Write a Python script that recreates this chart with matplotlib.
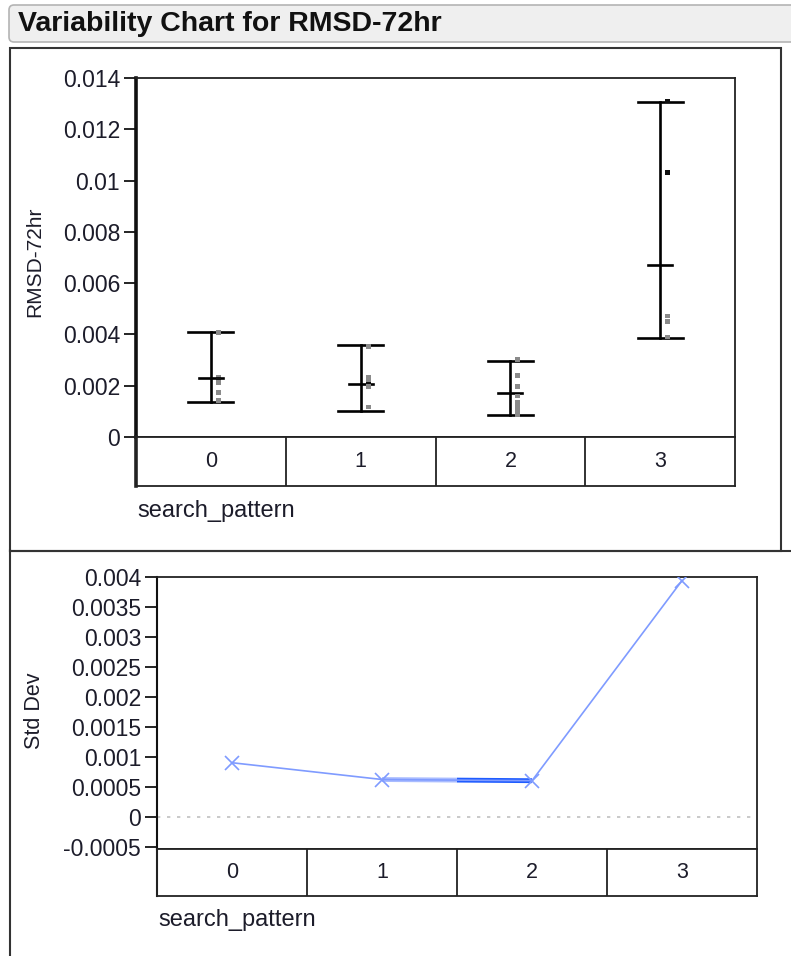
import numpy as np
import matplotlib
matplotlib.use("Agg")
import matplotlib.pyplot as plt
from matplotlib.patches import FancyBboxPatch, Rectangle

plt.rcParams['font.family'] = ['Liberation Sans', 'DejaVu Sans']

# Data
categories = ["0", "1", "2", "3"]
points_0 = [0.00406, 0.00234, 0.00226, 0.00212, 0.00173, 0.00142]
points_1 = [0.00352, 0.00234, 0.00221, 0.00206, 0.00198, 0.00117]
points_2 = [0.00303, 0.00241, 0.00196, 0.00160, 0.00134, 0.00121, 0.00112, 0.00101, 0.00088]
points_3 = [0.01310, 0.01030, 0.00472, 0.00450, 0.00390]
group_mean = [0.00229, 0.00207, 0.00170, 0.00670]
group_min = [0.00138, 0.00101, 0.00086, 0.00385]
group_max = [0.00408, 0.00357, 0.00296, 0.01308]
dark_points = {0: [2], 1: [3], 3: [0, 1]}
std_dev = [0.00090, 0.00062, 0.00060, 0.00394]

W, H = 791, 956
TXT = "#1c1c2a"


def box(x0, y0, x1, y1):
    return [x0 / W, 1 - y1 / H, (x1 - x0) / W, (y1 - y0) / H]


fig = plt.figure(figsize=(W / 100, H / 100), dpi=100)

# background "frame" axes in pixel coords
bg = fig.add_axes([0, 0, 1, 1], zorder=-1)
bg.set_xlim(0, W)
bg.set_ylim(H, 0)
bg.axis("off")
bg.add_patch(FancyBboxPatch((9, 5), 800, 37, boxstyle="round,pad=0,rounding_size=5",
                            facecolor="#efefef", edgecolor="#b4b4b4", lw=1.2))
bg.text(18, 24, "Variability Chart for RMSD-72hr", fontsize=20.5, fontweight="bold",
        color="#111111", va="center", ha="left")
bg.add_patch(Rectangle((10, 48), 770.5, 502.5, fill=False, edgecolor="#333333", lw=1.5))
bg.plot([10, W], [550.5, 550.5], color="#333333", lw=1.5)
bg.plot([10, 10], [550, H], color="#333333", lw=1.5)
bg.text(35, 262, "RMSD-72hr", rotation=90, fontsize=15, color=TXT, ha="center", va="center")
bg.text(35, 711, "Std Dev", rotation=90, fontsize=15.5, color=TXT, ha="center", va="center")
bg.text(137, 511, "search_pattern", fontsize=17, color=TXT, ha="left", va="center")
bg.text(158, 920, "search_pattern", fontsize=17, color=TXT, ha="left", va="center")


def style_axes(ax, left_lw):
    for s in ["top", "right", "bottom"]:
        ax.spines[s].set_linewidth(1.3)
        ax.spines[s].set_color("#222222")
    ax.spines["left"].set_linewidth(left_lw)
    ax.spines["left"].set_color("#111111")
    ax.tick_params(axis="y", direction="out", length=9, width=1.2, pad=2.5,
                   labelsize=16.5, labelcolor=TXT)
    ax.set_xticks([])
    ax.set_xlim(-0.5, 3.5)


def category_table(rect, left_lw):
    t = fig.add_axes(rect)
    t.set_xlim(-0.5, 3.5)
    t.set_ylim(0, 1)
    t.set_xticks([])
    t.set_yticks([])
    for s in t.spines.values():
        s.set_linewidth(1.3)
        s.set_color("#222222")
    t.spines["left"].set_linewidth(left_lw)
    for b in [0.5, 1.5, 2.5]:
        t.axvline(b, color="#222222", lw=1.3)
    for i, c in enumerate(categories):
        t.text(i, 0.5, c, ha="center", va="center", fontsize=15.5, color=TXT)
    return t


# ---- top: variability chart ----
ax1 = fig.add_axes(box(136, 78, 735, 437))
style_axes(ax1, 2.6)
ax1.set_ylim(0, 0.014)
yt = [0, 0.002, 0.004, 0.006, 0.008, 0.01, 0.012, 0.014]
ax1.set_yticks(yt)
ax1.set_yticklabels(["0", "0.002", "0.004", "0.006", "0.008", "0.01", "0.012", "0.014"])

groups = [points_0, points_1, points_2, points_3]
for i, pts in enumerate(groups):
    ax1.plot([i, i], [group_min[i], group_max[i]], color="black", lw=1.9, zorder=3)
    for yv in (group_min[i], group_max[i]):
        ax1.plot([i - 0.15, i + 0.15], [yv, yv], color="black", lw=1.9, zorder=3)
    ax1.plot([i - 0.08, i + 0.08], [group_mean[i], group_mean[i]], color="black", lw=1.9, zorder=3)
    cols = ["#111111" if k in dark_points.get(i, []) else "#8a8a8a" for k in range(len(pts))]
    ax1.scatter(np.full(len(pts), i + 0.05), pts, s=12, marker="s", c=cols, lw=0, zorder=4)

category_table(box(136, 437, 735, 486), 2.6)

# ---- bottom: std dev chart ----
ax2 = fig.add_axes(box(157, 577, 757, 849))
style_axes(ax2, 1.5)
ax2.set_ylim(-0.00054, 0.004)
yt2 = [-0.0005, 0, 0.0005, 0.001, 0.0015, 0.002, 0.0025, 0.003, 0.0035, 0.004]
ax2.set_yticks(yt2)
ax2.set_yticklabels(["-0.0005", "0", "0.0005", "0.001", "0.0015", "0.002",
                     "0.0025", "0.003", "0.0035", "0.004"])
ax2.axhline(0, color="#c0c0c0", lw=1.2, ls=(0, (2, 4)))
x = np.arange(len(categories))
ax2.plot(x, std_dev, color="#7f9bff", lw=1.2, marker="x", ms=10, mew=1.2, zorder=3)
# highlighted segment between groups 1 and 2
ax2.plot([1, 1.5], [std_dev[1], (std_dev[1] + std_dev[2]) / 2], color="#a9bcff", lw=3.5,
         solid_capstyle="butt", zorder=2)
ax2.plot([1.5, 2], [(std_dev[1] + std_dev[2]) / 2, std_dev[2]], color="#1f5cff", lw=3.5,
         solid_capstyle="butt", zorder=2)

category_table(box(157, 849, 757, 896), 1.5)

fig.savefig("out.png", dpi=100)
